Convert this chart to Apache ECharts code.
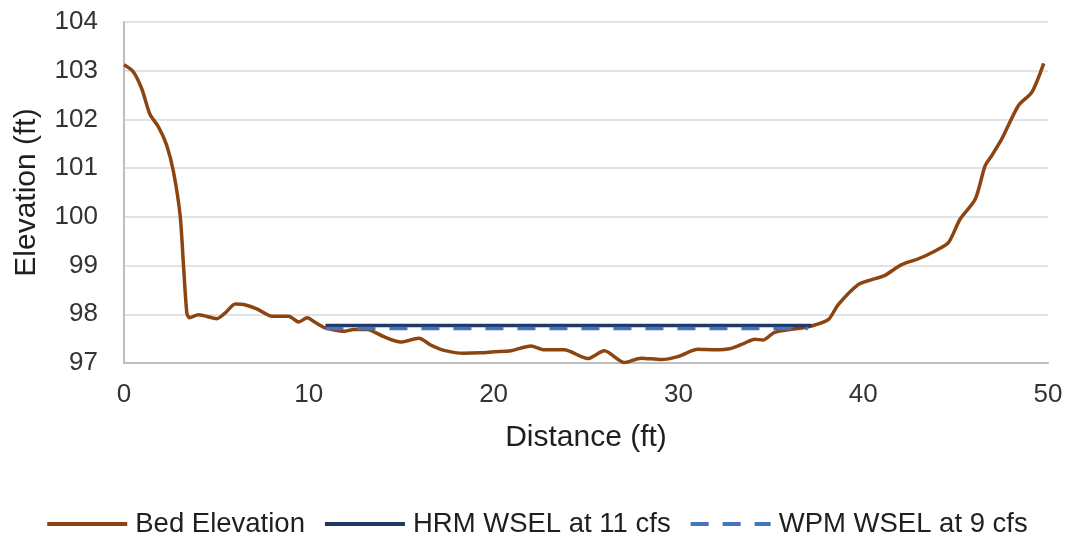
<!DOCTYPE html>
<html>
<head>
<meta charset="utf-8">
<script src="https://cdn.jsdelivr.net/npm/echarts@6/dist/echarts.min.js"></script>
<style>
  html, body { margin: 0; padding: 0; background: #ffffff; }
  #chart { width: 1073px; height: 539px; }
</style>
</head>
<body>
<div id="chart"></div>
<script>
// Cross-section survey: distance across the channel (ft) and elevation (ft)
const bedElevation = [
  [0, 103.12], [0.5, 102.98], [0.96, 102.63], [1.41, 102.1], [1.86, 101.85],
  [2.31, 101.47], [2.68, 100.92], [3.04, 100.02], [3.22, 99.0], [3.4, 98.03],
  [3.54, 97.93], [4.03, 97.99], [5.03, 97.91], [5.48, 98.03], [6.02, 98.21],
  [6.47, 98.2], [7.19, 98.11], [8.01, 97.96], [8.91, 97.96], [9.45, 97.84],
  [9.91, 97.93], [10.36, 97.83], [10.9, 97.72], [11.9, 97.65], [12.44, 97.69],
  [13.16, 97.69], [14.06, 97.54], [14.97, 97.43], [15.96, 97.51], [16.59, 97.37],
  [17.32, 97.26], [18.4, 97.2], [19.31, 97.21], [20.03, 97.23], [20.93, 97.25],
  [22.02, 97.35], [22.74, 97.27], [23.82, 97.27], [25.09, 97.09], [25.99, 97.25],
  [27.08, 97.01], [27.98, 97.1], [29.07, 97.07], [29.97, 97.13], [31.06, 97.28],
  [31.96, 97.27], [32.86, 97.3], [33.59, 97.41], [34.13, 97.49], [34.58, 97.47],
  [35.21, 97.63], [36.66, 97.72], [37.2, 97.76], [38.11, 97.89], [38.65, 98.2],
  [39.73, 98.61], [40.46, 98.71], [41.18, 98.8], [42.08, 99.02], [42.99, 99.14],
  [43.89, 99.3], [44.61, 99.47], [45.24, 99.95], [46.06, 100.36], [46.6, 101.05],
  [46.96, 101.26], [47.5, 101.6], [48.41, 102.29], [49.13, 102.56], [49.77, 103.15]
];

// Water surface elevations at the wetted edges
const hrmWsel = [[10.9, 97.77], [37.2, 97.77]];
const wpmWsel = [[10.9, 97.71], [37.0, 97.71]];

const seriesNames = ['Bed Elevation', 'HRM WSEL at 11 cfs', 'WPM WSEL at 9 cfs'];
const xTicks = { min: 0, max: 50, interval: 10 };
const yTicks = { min: 97, max: 104, interval: 1 };

const textColor = '#333333';
const titleColor = '#1f1f1f';
const fontFamily = '"Liberation Sans", Arial, sans-serif';

const chart = echarts.init(document.getElementById('chart'), null, { renderer: 'canvas' });

chart.setOption({
  animation: false,
  backgroundColor: '#ffffff',
  textStyle: { fontFamily: fontFamily },
  grid: { left: 124, right: 25, top: 22, bottom: 176, containLabel: false },
  legend: {
    data: seriesNames,
    top: 505,
    left: 'center',
    itemWidth: 80,
    itemHeight: 14,
    itemGap: 18,
    itemStyle: { opacity: 0 },
    lineStyle: { width: 4 },
    textStyle: { fontSize: 27.5, color: titleColor, fontFamily: fontFamily, padding: [0, 0, 0, 3] }
  },
  xAxis: {
    type: 'value',
    min: xTicks.min,
    max: xTicks.max,
    interval: xTicks.interval,
    name: 'Distance (ft)',
    nameLocation: 'middle',
    nameGap: 60,
    nameTextStyle: { fontSize: 30, color: titleColor, fontFamily: fontFamily },
    axisLine: { show: true, onZero: false, lineStyle: { color: '#BFBFBF', width: 2 } },
    axisTick: { show: false },
    axisLabel: { fontSize: 26, color: textColor, margin: 19, fontFamily: fontFamily },
    splitLine: { show: false }
  },
  yAxis: {
    type: 'value',
    min: yTicks.min,
    max: yTicks.max,
    interval: yTicks.interval,
    name: 'Elevation (ft)',
    nameLocation: 'middle',
    nameGap: 82,
    nameTextStyle: { fontSize: 30, color: titleColor, fontFamily: fontFamily },
    axisLine: { show: true, lineStyle: { color: '#BFBFBF', width: 2 } },
    axisTick: { show: false },
    axisLabel: { fontSize: 26, color: textColor, margin: 26, fontFamily: fontFamily },
    splitLine: { show: true, lineStyle: { color: '#D9D9D9', width: 1.5 } }
  },
  series: [
    {
      name: seriesNames[0],
      type: 'line',
      data: bedElevation,
      showSymbol: false,
      symbol: 'none',
      smooth: 0.25,
      lineStyle: { color: '#8C4511', width: 3.5 },
      itemStyle: { color: '#8C4511' },
      z: 2
    },
    {
      name: seriesNames[1],
      type: 'line',
      data: hrmWsel,
      showSymbol: false,
      symbol: 'none',
      lineStyle: { color: '#1F3864', width: 3.5 },
      itemStyle: { color: '#1F3864' },
      z: 3
    },
    {
      name: seriesNames[2],
      type: 'line',
      data: wpmWsel,
      showSymbol: false,
      symbol: 'none',
      lineStyle: { color: '#4472C4', width: 3.5, type: [18, 14] },
      itemStyle: { color: '#4472C4' },
      z: 4
    }
  ]
});
</script>
</body>
</html>
